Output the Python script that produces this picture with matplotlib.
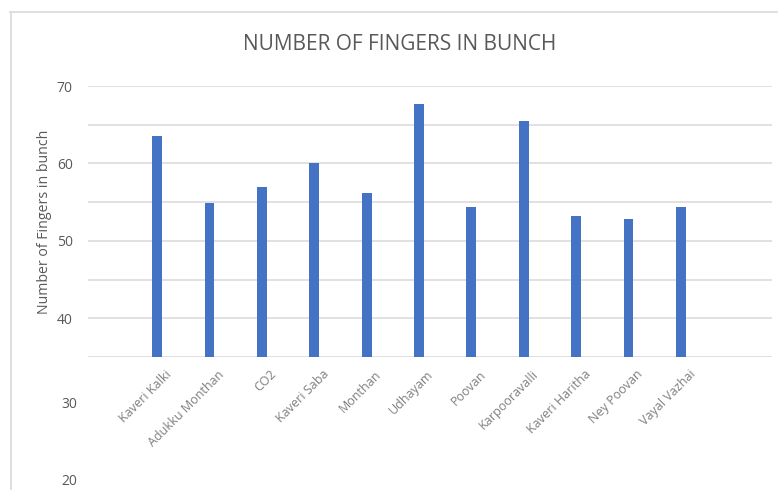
import matplotlib
matplotlib.use("Agg")
import matplotlib.pyplot as plt
from matplotlib.lines import Line2D
import matplotlib.transforms as mtransforms

categories = ["Kaveri Kalki", "Adukku Monthan", "CO2", "Kaveri Saba", "Monthan",
              "Udhayam", "Poovan", "Karpooravalli", "Kaveri Haritha", "Ney Poovan",
              "Vayal Vazhai"]
values = [63.6, 54.9, 57.0, 60.1, 56.2, 67.7, 54.4, 65.5, 53.2, 52.8, 54.4]
y_ticks = [40, 50, 60, 70]
extra_ticks = [30, 20]
grid_levels = [35, 40, 45, 50, 55, 60, 65, 70]

W, H = 778, 490
fig = plt.figure(figsize=(W / 100, H / 100), dpi=100)
fig.patch.set_facecolor("white")
plt.rcParams['font.family'] = ['Open Sans', 'DejaVu Sans']

left, right, top, bottom = 88, 772, 86, 357
ax = fig.add_axes([left / W, 1 - bottom / H, (right - left) / W, (bottom - top) / H])

x = list(range(len(categories)))
ax.bar(x, values, width=0.19, color="#4472C4", zorder=3, bottom=0)
ax.set_ylim(35, 70)
ax.set_xlim(-1.32, 11.74)

for g in grid_levels:
    ax.axhline(g, color="#d9d9d9", lw=1.1, zorder=1)

for s in ax.spines.values():
    s.set_visible(False)

ax.set_yticks(y_ticks)
ax.set_yticklabels([str(t) for t in y_ticks], color="#595959", fontsize=10)
ax.tick_params(axis="y", length=0, pad=11)
ax.tick_params(axis="x", length=0)
ax.set_xticks(x)
ax.set_xticklabels(categories, rotation=45, ha="right", rotation_mode="anchor",
                   color="#7f7f7f", fontsize=9)
for lbl in ax.get_xticklabels():
    lbl.set_transform(lbl.get_transform() + mtransforms.ScaledTranslation(8 / 100, -6 / 100, fig.dpi_scale_trans))

# extra tick labels below the axis
trans = mtransforms.blended_transform_factory(ax.transAxes, ax.transData)
for t in extra_ticks:
    ax.text(-11 / (right - left), t - 1.1, str(t), transform=trans, ha="right", va="center",
            color="#595959", fontsize=10, clip_on=False)

ax.set_ylabel("Number of Fingers in bunch", color="#595959", fontsize=10.2)
ax.yaxis.set_label_coords(-36 / (right - left), 0.5)

fig.text(400 / W, 1 - 44 / H, "NUMBER OF FINGERS IN BUNCH", ha="center", va="center",
         color="#595959", fontsize=15)

# outer border fragments
fig.add_artist(Line2D([10 / W, 1], [1 - 12 / H, 1 - 12 / H], color="#d9d9d9", lw=1.2))
fig.add_artist(Line2D([11 / W, 11 / W], [1 - 12 / H, 0], color="#d9d9d9", lw=1.2))

fig.savefig("out.png", dpi=100, facecolor="white")
